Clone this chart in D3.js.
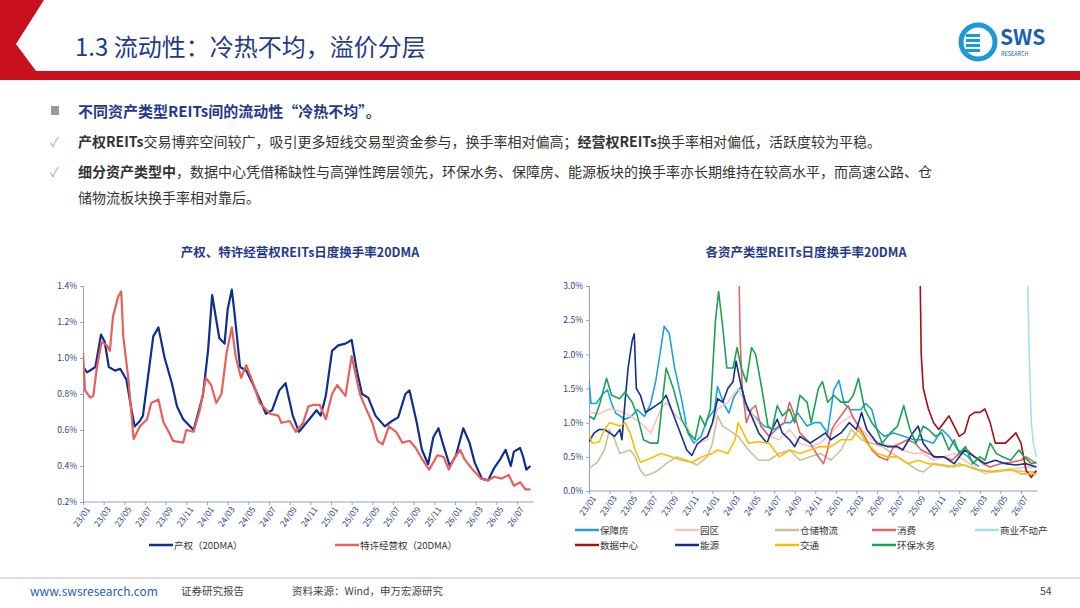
<!DOCTYPE html>
<html><head><meta charset="utf-8">
<script src="https://cdn.jsdelivr.net/npm/d3@7"></script>
<style>
body{margin:0;background:#fff;font-family:"Noto Sans CJK SC","Noto Sans",sans-serif}
text{font-family:"Noto Sans CJK SC","Noto Sans",sans-serif}
</style></head><body>
<svg id="c" width="1080" height="608"></svg>
<script>
// month index from 23/01 = 0
const tickLabels = ["23/01","23/03","23/05","23/07","23/09","23/11","24/01","24/03","24/05","24/07","24/09","24/11","25/01","25/03","25/05","25/07","25/09","25/11","26/01","26/03","26/05","26/07"];

const chanquan = [[0,.95],[.4,.92],[1.2,.95],[1.74,1.13],[2.1,1.09],[2.5,.95],[3.1,.93],[3.6,.94],[4.2,.88],[4.7,.71],[5,.62],[5.5,.65],[5.8,.68],[6.3,.9],[6.8,1.12],[7.3,1.17],[7.9,1],[8.6,.86],[9.1,.73],[9.7,.66],[10.7,.6],[11.6,.79],[12.1,1.04],[12.5,1.35],[12.9,1.21],[13.2,1.11],[13.7,1.08],[14,1.27],[14.4,1.38],[14.7,1.23],[15.2,.95],[15.8,.93],[16.4,.86],[17.1,.77],[17.7,.69],[18.3,.71],[19,.82],[19.6,.86],[20.3,.68],[20.9,.59],[21.9,.66],[22.6,.71],[23,.68],[23.5,.79],[24.1,1.04],[24.7,1.07],[25.4,1.08],[26,1.1],[26.5,.93],[27,.8],[27.6,.78],[28.3,.68],[29.2,.62],[29.9,.65],[30.5,.67],[31.2,.8],[31.6,.82],[32.3,.64],[32.8,.49],[33.4,.41],[33.9,.56],[34.4,.61],[34.9,.51],[35.5,.4],[36.1,.46],[36.8,.61],[37.4,.53],[37.9,.42],[38.6,.33],[39.2,.32],[39.8,.39],[40.4,.44],[40.9,.49],[41.4,.4],[41.7,.48],[42.3,.5],[42.6,.45],[42.9,.38],[43.3,.4]];
const texu = [[0,1.03],[.2,.82],[.7,.78],[1,.79],[1.3,.93],[1.8,1.09],[2.3,1.07],[2.6,1.04],[2.9,1.23],[3.4,1.34],[3.7,1.37],[3.9,1.12],[4.4,.88],[4.9,.55],[5.5,.62],[6.2,.66],[6.6,.75],[7.3,.77],[7.8,.64],[8.3,.59],[8.7,.54],[9.7,.53],[10,.6],[10.7,.59],[11.3,.71],[11.9,.89],[12.4,.85],[12.9,.75],[13.4,.8],[13.9,1.03],[14.4,1.17],[14.8,1],[15.3,.89],[15.8,.96],[16.4,.87],[17.1,.75],[18.1,.69],[18.9,.68],[19.2,.64],[20,.65],[20.6,.59],[21.3,.64],[21.8,.73],[22.3,.74],[22.9,.74],[23.5,.66],[24.1,.8],[24.6,.85],[25.4,.79],[26,1.01],[26.8,.8],[27.3,.73],[28,.64],[28.5,.54],[29,.52],[29.6,.62],[30.3,.59],[30.9,.53],[31.6,.54],[32.2,.5],[32.8,.44],[33.5,.38],[34.3,.46],[34.9,.45],[35.4,.38],[35.9,.44],[36.5,.49],[36.9,.44],[37.7,.38],[38.5,.33],[39.2,.32],[39.8,.34],[40.5,.33],[41.2,.35],[41.7,.29],[42.3,.31],[42.8,.27],[43.3,.27]];

const baozhangfang = [[0,1.62],[.2,1.28],[.7,1.28],[1.4,1.43],[1.8,1.48],[2.2,1.28],[2.6,1.14],[3.5,1.05],[4.1,1.09],[4.7,1.19],[5.4,1.09],[6,1.28],[6.5,1.62],[7,2.1],[7.3,2.41],[7.8,2.31],[8.3,1.82],[9,1.34],[9.6,.85],[10.2,.7],[10.9,.8],[11.5,1.05],[12.2,1.19],[12.5,1.53],[13.1,1.28],[13.6,1.14],[14.1,1.38],[14.8,1.53],[15.4,1.19],[16.4,1.05],[17,.95],[18,.9],[19,1],[19.6,1],[20.3,1.14],[21.2,.95],[21.9,1],[22.5,1],[23.2,.85],[23.8,1.48],[24.3,1.62],[24.8,1.28],[25.4,1.19],[26.4,1.19],[26.9,1.28],[27.5,1.19],[28,.9],[28.7,.8],[29.6,.85],[30.6,.8],[31.6,.75],[32.5,.75],[33.5,.7],[34.3,.9],[35,.8],[35.8,.61],[36.8,.51],[37.4,.41],[37.9,.36]];
const yuanqu = [[0,1.15],[1,1.13],[2,1.2],[3,1.17],[4,1.1],[5,1],[6,.85],[7,1.2],[7.5,1.3],[8.5,1.1],[9.5,.95],[10.5,.7],[11.5,.75],[12.5,1.2],[13.5,1.3],[14.5,1.5],[15.5,1.2],[16.5,1],[17.5,.8],[18.5,.75],[19.5,.9],[20.5,.7],[21.5,.65],[22.5,.7],[23.5,.85],[24.5,1],[25.5,1.1],[26.5,.9],[27.5,.75],[28.5,.7],[29.5,.65],[30.5,.6],[31.5,.55],[32.5,.55],[33.5,.45],[34.5,.5],[35.5,.55],[36.5,.45],[37.5,.35],[38.5,.25],[39.5,.3],[40.5,.3],[41.5,.33],[42.5,.35],[43.5,.35]];
const cangchu = [[0,.33],[.8,.42],[1.5,.6],[2,.9],[2.5,.75],[3,.55],[4,.6],[4.5,.5],[5,.3],[5.5,.22],[6.5,.28],[7.5,.4],[8.5,.5],[9.5,.45],[10.5,.38],[11.5,.5],[12,.7],[12.5,1.1],[13,.95],[14,.85],[14.5,.8],[15.5,.6],[16.5,.45],[17.5,.45],[18.5,.55],[19.5,.6],[20.5,.45],[21.5,.5],[22.5,.55],[23.5,.45],[24.5,.6],[25.5,.9],[26.5,.75],[27.5,.7],[28.5,.65],[29.5,.55],[30.5,.45],[31.5,.35],[32,.3],[32.5,.28],[33.5,.4],[34.5,.38],[35.5,.35],[36.5,.38],[37.5,.32],[38.5,.3],[39.5,.28],[40.5,.3],[41.5,.3],[42.5,.28],[43.5,.28]];
const xiaofei = [[14.6,3.05],[14.7,2.2],[14.9,1.5],[15.3,1],[15.8,1.2],[16.2,1.25],[16.7,.95],[17.5,.8],[18.2,.9],[19,1],[19.5,1.3],[20,1.1],[20.5,.85],[21.5,.7],[22.3,.5],[22.8,.4],[23.2,.6],[23.6,.9],[24,1],[24.5,1.1],[25.2,1.25],[25.6,1.1],[26.2,.95],[26.8,.8],[27.5,.6],[28.2,.5],[29,.45],[29.6,.65],[30.3,.7],[31,.75],[31.7,.7],[32.3,.6],[33,.55],[33.7,.5],[34.5,.5],[35.3,.45],[36,.55],[36.8,.6],[37.5,.5],[38.3,.4],[39,.35],[40,.4],[41,.42],[42,.45],[42.5,.5],[43.5,.4]];
const shangye = [[42.65,3.05],[42.8,2],[43,1],[43.2,.7],[43.5,.5]];
const shuju = [[32.2,3.05],[32.3,2],[32.5,1.5],[33,1.2],[33.5,1],[34,.9],[34.5,1],[35,1.1],[35.5,.95],[36,.8],[36.5,.85],[37,1.1],[37.5,1.15],[38,1.15],[38.5,1.2],[39,1],[39.5,.7],[40.5,.7],[41.5,.85],[42,.7],[42.5,.3],[43,.2],[43.5,.3]];
const nengyuan = [[0,.72],[.5,.85],[1,.9],[1.5,.9],[2,.85],[2.5,.8],[3,.9],[3.2,.75],[3.5,1.3],[3.8,1.8],[4.2,2.2],[4.4,2.3],[4.6,1.5],[5,1.4],[5.5,1.15],[6,1.2],[6.5,1.25],[7,1.3],[7.5,1.4],[8,1.2],[8.5,1],[9,.8],[9.5,.6],[10,.52],[10.5,.68],[11,.75],[11.5,.8],[12,1],[12.5,1.35],[13,1.3],[13.5,1.5],[14,1.6],[14.3,1.9],[14.7,1.6],[15.2,1.3],[15.8,1.1],[16.5,.85],[17.3,.7],[17.8,.9],[18.3,1.05],[18.8,.85],[19.5,.75],[20,.65],[20.5,.8],[21.5,.7],[22.5,.8],[23,.85],[23.5,.75],[24.5,.85],[25.3,1],[26,.9],[26.5,1.15],[27,.9],[27.5,.8],[28,.7],[29,.65],[30,.65],[30.5,.6],[31.5,.85],[32,.95],[32.5,.7],[33.5,.5],[34.5,.5],[35.5,.4],[36.5,.6],[37.5,.5],[38.5,.4],[39.5,.45],[40.5,.4],[41.5,.38],[42.5,.4],[43.5,.35]];
const jiaotong = [[0,.85],[.3,.7],[1,.72],[1.5,.9],[2,1],[3,.95],[3.5,1],[4,.85],[4.5,.6],[5,.42],[6,.48],[7,.55],[8,.5],[9,.45],[10,.42],[11,.5],[12,.55],[12.5,.6],[13.5,.55],[14.2,.75],[14.5,1],[15,.85],[15.5,.7],[16.5,.72],[17.5,.7],[18.5,.5],[19.5,.6],[20.5,.55],[21.5,.6],[22.5,.65],[23.5,.65],[24.5,.75],[25.5,.75],[26.2,.9],[27,.7],[28,.55],[29,.5],[30,.5],[31,.4],[32,.45],[33,.4],[34,.38],[35,.35],[36,.4],[37,.35],[38,.3],[39,.28],[40,.3],[41,.32],[42,.25],[43.5,.25]];
const huanbao = [[0,1.1],[.5,1.05],[1,1.25],[1.7,1.65],[2.2,1.4],[3,1.35],[3.5,1.45],[4.2,1.3],[4.7,1.1],[5.3,.75],[6,.7],[6.7,.7],[7.2,1.4],[7.5,1.8],[8.2,1.5],[9,1.05],[9.7,.85],[10.3,.75],[10.8,1.1],[11.3,.95],[11.8,1.2],[12.3,2.5],[12.6,2.92],[13,2.4],[13.4,1.8],[14,1.8],[14.4,2.1],[14.8,1.8],[15.3,1.6],[15.8,2.1],[16.2,2],[16.8,1.5],[17.4,.95],[17.8,.9],[18.3,1.25],[18.8,1.1],[19.5,1.2],[20,1],[20.5,1.4],[21.2,1.3],[21.6,1],[22.3,1.5],[22.7,1.6],[23.2,1.3],[23.8,1.4],[24.5,1.3],[25.2,1.3],[25.7,1.4],[26.2,1.65],[26.8,1.2],[27.5,1],[28,.9],[28.5,.7],[29.3,.85],[30,.95],[30.6,1.25],[31.2,.9],[31.8,.7],[32.5,.95],[33,.9],[33.7,.8],[34.3,.85],[35,.6],[35.5,.75],[36,.55],[36.6,.65],[37.3,.4],[38,.5],[38.5,.45],[39,.7],[39.6,.55],[40.2,.5],[41,.45],[41.8,.6],[42.3,.5],[43,.4],[43.5,.42]];

const leftSeries = [
  {name:"产权（20DMA）", data:chanquan, color:"#0d2f8f"},
  {name:"特许经营权（20DMA）", data:texu, color:"#e8605c"}
];
const rightSeries = [
  {name:"保障房", data:baozhangfang, color:"#1aa3e0"},
  {name:"园区", data:yuanqu, color:"#f5c4c4"},
  {name:"仓储物流", data:cangchu, color:"#cdbf9e"},
  {name:"消费", data:xiaofei, color:"#e06464"},
  {name:"商业不动产", data:shangye, color:"#a8dcf2"},
  {name:"数据中心", data:shuju, color:"#a50f15"},
  {name:"能源", data:nengyuan, color:"#12308a"},
  {name:"交通", data:jiaotong, color:"#f5c000"},
  {name:"环保水务", data:huanbao, color:"#1aa352"}
];

const svg = d3.select("#c");
const blue = "#1f3a8a";

// header
svg.append("path").attr("d","M0,0 L44,0 L16,44 L36,71 L1080,71 L1080,80 L0,80 Z").attr("fill","#c8101e");
svg.append("text").attr("x",75).attr("y",56).attr("font-size",24).attr("fill",blue).text("1.3 流动性：冷热不均，溢价分层");
// logo
const lg = svg.append("g").attr("transform","translate(978,42)");
lg.append("circle").attr("r",17).attr("fill","none").attr("stroke","#1a9ad6").attr("stroke-width",5);
[-8,-3,2,7].forEach(y=>lg.append("rect").attr("x",-12).attr("y",y).attr("width",14).attr("height",3).attr("fill","#1a9ad6"));
lg.append("text").attr("x",22).attr("y",3).attr("font-size",21).attr("font-weight","bold").attr("fill","#1a5fb0").attr("font-family","Liberation Sans").text("SWS");
lg.append("text").attr("x",23).attr("y",14).attr("font-size",5.5).attr("fill","#1a5fb0").attr("font-family","Liberation Sans").text("RESEARCH");

// bullets
svg.append("rect").attr("x",51).attr("y",106).attr("width",8).attr("height",9).attr("fill","#999");
svg.append("text").attr("x",78).attr("y",117).attr("font-size",15).attr("font-weight","bold").attr("fill",blue).text("不同资产类型REITs间的流动性“冷热不均”。");
const lines = [
  {y:147, parts:[["产权REITs",1],["交易博弈空间较广，吸引更多短线交易型资金参与，换手率相对偏高；",0],["经营权REITs",1],["换手率相对偏低，活跃度较为平稳。",0]], check:true},
  {y:177, parts:[["细分资产类型中",1],["，数据中心凭借稀缺性与高弹性跨层领先，环保水务、保障房、能源板块的换手率亦长期维持在较高水平，而高速公路、仓",0]], check:true},
  {y:203, parts:[["储物流板块换手率相对靠后。",0]], check:false}
];
lines.forEach(l=>{
  if(l.check) svg.append("text").attr("x",50).attr("y",l.y).attr("font-size",13).attr("fill","#aaa").text("✓");
  const t = svg.append("text").attr("x",78).attr("y",l.y).attr("font-size",14).attr("fill","#333");
  l.parts.forEach(p=>t.append("tspan").attr("font-weight",p[1]?"bold":"normal").text(p[0]));
});

function chart(opt){
  const x = d3.scaleLinear().domain([0,42]).range([opt.x0,opt.x1]);
  const y = d3.scaleLinear().domain(opt.yd).range([opt.yb,opt.yt]);
  const g = svg.append("g");
  g.append("text").attr("x",opt.tx).attr("y",257).attr("text-anchor","middle").attr("font-size",12.5).attr("font-weight","bold").attr("fill",blue).text(opt.title);
  const ya = g.append("g").attr("transform",`translate(${opt.x0},0)`)
    .call(d3.axisLeft(y).tickValues(opt.yt_vals).tickFormat(opt.fmt).tickSize(3));
  const xa = g.append("g").attr("transform",`translate(0,${opt.yb})`)
    .call(d3.axisBottom(x).tickValues(d3.range(0,43,2)).tickFormat((d,i)=>tickLabels[i]).tickSize(3));
  xa.select(".domain").attr("d",`M${opt.x0},0H${x(43.6)}`);
  [ya,xa].forEach(a=>{a.selectAll("path,line").attr("stroke","#8ea0c8");a.selectAll("text").attr("fill","#2b3f80").attr("font-size",8.5).attr("font-family","Liberation Sans");});
  xa.selectAll("text").attr("text-anchor","end").attr("dx","-2").attr("dy","4").attr("transform","rotate(-55)");
  const clip = "cl"+opt.x0;
  g.append("clipPath").attr("id",clip).append("rect").attr("x",opt.x0).attr("y",opt.yt).attr("width",opt.x1).attr("height",opt.yb-opt.yt);
  const line = d3.line().x(d=>x(d[0])).y(d=>y(d[1]));
  opt.series.forEach(s=>g.append("path").attr("clip-path",`url(#${clip})`).attr("d",line(s.data)).attr("fill","none").attr("stroke",s.color).attr("stroke-width",opt.sw).attr("stroke-linejoin","round"));
  opt.legend.forEach((p,i)=>{
    const s = opt.series[i];
    g.append("line").attr("x1",p[0]).attr("x2",p[0]+24).attr("y1",p[1]).attr("y2",p[1]).attr("stroke",s.color).attr("stroke-width",2.5);
    g.append("text").attr("x",p[0]+25).attr("y",p[1]+3.5).attr("font-size",9.5).attr("fill","#333").text(s.name);
  });
}

chart({x0:83,x1:517,yb:502,yt:286,yd:[0.2,1.4],yt_vals:[.2,.4,.6,.8,1,1.2,1.4],fmt:d=>d.toFixed(1)+"%",
  title:"产权、特许经营权REITs日度换手率20DMA",tx:300,series:leftSeries,sw:2.2,legend:[[149,545],[335,545]]});
chart({x0:589,x1:1021,yb:491,yt:286,yd:[0,3],yt_vals:[0,.5,1,1.5,2,2.5,3],fmt:d=>d.toFixed(1)+"%",
  title:"各资产类型REITs日度换手率20DMA",tx:806,series:rightSeries,sw:1.6,
  legend:[[575,530],[675,530],[775,530],[872,530],[975,530],[575,545],[675,545],[775,545],[872,545]]});

// footer
svg.append("line").attr("x1",0).attr("x2",1080).attr("y1",578).attr("y2",578).attr("stroke","#bbb").attr("stroke-width",1);
svg.append("text").attr("x",30).attr("y",596).attr("font-size",12).attr("fill","#1f5fb0").attr("font-family","Liberation Sans").text("www.swsresearch.com");
svg.append("text").attr("x",181).attr("y",595).attr("font-size",10.5).attr("fill","#444").text("证券研究报告");
svg.append("text").attr("x",292).attr("y",595).attr("font-size",10.5).attr("fill","#444").text("资料来源：Wind，申万宏源研究");
svg.append("text").attr("x",1040).attr("y",595).attr("font-size",10.5).attr("fill","#444").text("54");
</script></body></html>
